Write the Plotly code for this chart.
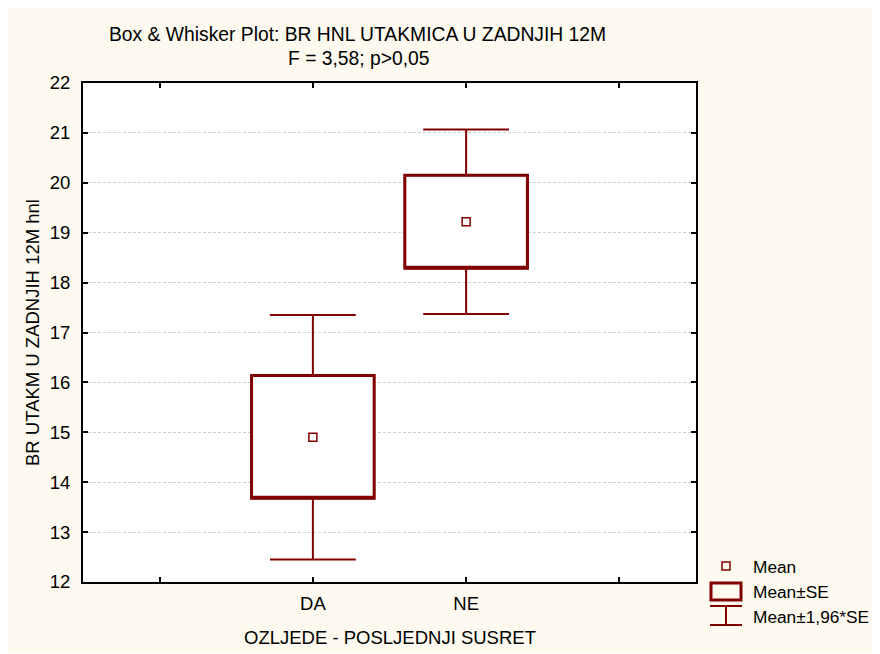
import plotly.graph_objects as go

# ---- data ----
categories = ["DA", "NE"]
means = [14.90, 19.22]
mean_minus_se = [13.68, 18.29]
mean_plus_se = [16.14, 20.15]
mean_minus_196se = [12.45, 17.37]
mean_plus_196se = [17.35, 21.07]
x_tick_labels = ["", "DA", "NE", ""]
y_ticks = [12, 13, 14, 15, 16, 17, 18, 19, 20, 21, 22]

title_line1 = "Box & Whisker Plot: BR HNL UTAKMICA U ZADNJIH 12M"
title_line2 = "F = 3,58; p>0,05"
x_title = "OZLJEDE - POSLJEDNJI SUSRET"
y_title = "BR UTAKM U ZADNJIH 12M hnl"
legend_labels = ["Mean", "Mean±SE", "Mean±1,96*SE"]

# ---- style ----
RED = "#800000"
CREAM = "#FEFAF0"
FONT = "Liberation Sans, Arial, sans-serif"
OFF = 8                      # page (body) margin of the html
W, H = 880, 645
L, R, T, B = 83 - OFF, 696 - OFF, 83 - OFF, 582 - OFF  # plot area in figure pixels
FS = 18.5
TFS = 19.3
LFS = 17.3


def px(xs):  # screen pixel -> paper x
    return (xs - OFF - L) / (R - L)


def py(ys):  # screen pixel -> paper y
    return (B - (ys - OFF)) / (B - T)


xpos = [i + 1 for i in range(len(categories))]

fig = go.Figure()

# whiskers (Mean±1.96*SE) + box
fig.add_trace(go.Box(
    x=xpos, q1=mean_minus_se, median=mean_minus_se, q3=mean_plus_se,
    lowerfence=mean_minus_196se, upperfence=mean_plus_196se,
    width=0.8, whiskerwidth=0.7,
    line=dict(color=RED, width=2), fillcolor="white",
    boxpoints=False, hoverinfo="skip", showlegend=False,
))
# thicker box outline (Mean±SE)
fig.add_trace(go.Box(
    x=xpos, q1=mean_minus_se, median=mean_minus_se, q3=mean_plus_se,
    lowerfence=mean_minus_se, upperfence=mean_plus_se,
    width=0.8, whiskerwidth=0,
    line=dict(color=RED, width=3), fillcolor="rgba(0,0,0,0)",
    boxpoints=False, hoverinfo="skip", showlegend=False,
))
# mean markers
fig.add_trace(go.Scatter(
    x=xpos, y=means, mode="markers",
    marker=dict(symbol="square-open", size=8, color=RED, line=dict(width=1.5, color=RED)),
    hoverinfo="skip", showlegend=False,
))

shapes = [
    # legend symbols
    dict(type="rect", xref="paper", yref="paper",
         x0=px(722), x1=px(730), y0=py(570), y1=py(562),
         line=dict(color=RED, width=1.5), fillcolor="rgba(0,0,0,0)"),
    dict(type="rect", xref="paper", yref="paper",
         x0=px(711), x1=px(741), y0=py(600), y1=py(583),
         line=dict(color=RED, width=3), fillcolor="rgba(0,0,0,0)"),
    dict(type="line", xref="paper", yref="paper",
         x0=px(710), x1=px(742), y0=py(606), y1=py(606), line=dict(color=RED, width=2)),
    dict(type="line", xref="paper", yref="paper",
         x0=px(710), x1=px(742), y0=py(625), y1=py(625), line=dict(color=RED, width=2)),
    dict(type="line", xref="paper", yref="paper",
         x0=px(726), x1=px(726), y0=py(606), y1=py(625), line=dict(color=RED, width=2)),
]

annotations = [
    dict(text=title_line1, x=px(357), y=py(35), xref="paper", yref="paper",
         showarrow=False, xanchor="center", yanchor="middle",
         font=dict(family=FONT, size=TFS, color="black")),
    dict(text=title_line2, x=px(359), y=py(58), xref="paper", yref="paper",
         showarrow=False, xanchor="center", yanchor="middle",
         font=dict(family=FONT, size=TFS, color="black")),
    dict(text=x_title, x=px(390), y=py(637), xref="paper", yref="paper",
         showarrow=False, xanchor="center", yanchor="middle",
         font=dict(family=FONT, size=FS, color="black")),
    dict(text=y_title, x=px(32), y=py(333), xref="paper", yref="paper",
         showarrow=False, xanchor="center", yanchor="middle", textangle=-90,
         font=dict(family=FONT, size=FS, color="black")),
]
for label, ypix in zip(legend_labels, [567, 592, 617]):
    annotations.append(dict(text=label, x=px(751), y=py(ypix), xref="paper", yref="paper",
                            showarrow=False, xanchor="left", yanchor="middle",
                            font=dict(family=FONT, size=LFS, color="black")))

fig.update_layout(
    width=W, height=H,
    margin=dict(l=L, r=W - R, t=T, b=H - B, pad=0),
    paper_bgcolor=CREAM, plot_bgcolor="white",
    font=dict(family=FONT, size=FS, color="black"),
    showlegend=False,
    shapes=shapes, annotations=annotations,
    boxmode="overlay",
)
fig.update_xaxes(
    range=[-0.5, 3.5], tickvals=list(range(len(x_tick_labels))), ticktext=x_tick_labels,
    showgrid=False, zeroline=False,
    showline=True, linecolor="black", linewidth=2, mirror="ticks",
    ticks="inside", ticklen=5, tickcolor="black", tickwidth=1.5,
    ticklabelstandoff=4,
    tickfont=dict(size=FS),
)
fig.update_yaxes(
    range=[12, 22], tickvals=y_ticks,
    showgrid=True, gridcolor="#CFCFCF", gridwidth=1, griddash="3px,2px",
    zeroline=False,
    showline=True, linecolor="black", linewidth=2, mirror="ticks",
    ticks="inside", ticklen=5, tickcolor="black", tickwidth=1.5,
    ticklabelstandoff=7,
    tickfont=dict(size=FS),
)

fig.write_html("out.html")
